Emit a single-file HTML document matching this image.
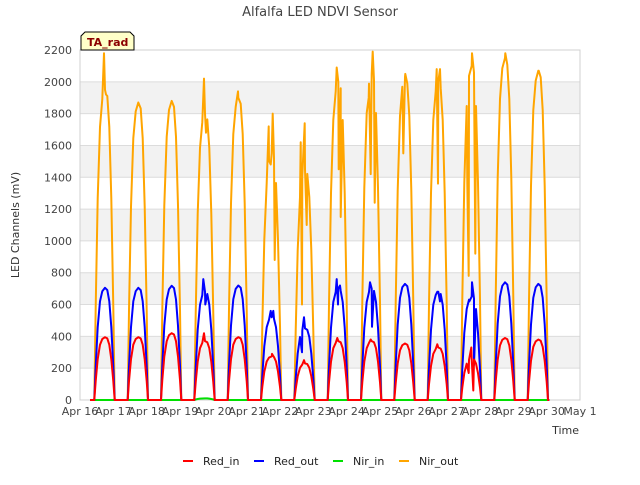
<!DOCTYPE html>
<html><head><meta charset="utf-8"><style>
body{margin:0;background:#fff;font-family:"Liberation Sans","DejaVu Sans",sans-serif;}
svg text{font-family:"DejaVu Sans","Liberation Sans",sans-serif;}
</style></head><body>
<svg id="c" width="640" height="480" viewBox="0 0 640 480" xmlns="http://www.w3.org/2000/svg">
<rect width="640" height="480" fill="#fff"/>
<text x="320" y="16" text-anchor="middle" font-size="13" fill="#444">Alfalfa LED NDVI Sensor</text>
<g id="grid"></g>
<g id="series"></g>
<g id="axes"></g>
<text transform="translate(19,225) rotate(-90)" text-anchor="middle" font-size="11" fill="#333">LED Channels (mV)</text>
<text x="579" y="434" text-anchor="end" font-size="11" fill="#333">Time</text>
<g>
<path d="M81,50 L81,36 L85,32 L130,32 L134,36 L134,50 Z" fill="#ffffc8" stroke="#000" stroke-width="1"/>
<text x="87" y="46" font-size="11" font-weight="bold" fill="#8b0000">TA_rad</text>
</g>
<g id="legend"></g>
</svg>
<script>
const tickLabels=["Apr 16","Apr 17","Apr 18","Apr 19","Apr 20","Apr 21","Apr 22","Apr 23","Apr 24","Apr 25","Apr 26","Apr 27","Apr 28","Apr 29","Apr 30","May 1"];
const yTicks=[0,200,400,600,800,1000,1200,1400,1600,1800,2000,2200];
const dayFrac=[0.40,0.43,0.47,0.53,0.6,0.67,0.75,0.82,0.88,0.94,1.0,1.04,1.08];
const profile=[0,0,0.3,0.65,0.88,0.97,1.0,0.98,0.88,0.65,0.3,0,0];
const nirOutPeak=[1950,1870,1880,1800,1900,1550,1450,2000,2050,2030,2000,2100,2150,2070];
const redOutPeak=[705,705,718,680,720,520,450,700,700,730,680,650,740,730];
const redInPeak=[395,395,420,370,395,275,230,370,370,355,330,260,390,380];
const nirInPeak=[0,0,0,10,0,0,0,0,0,0,0,0,0,0];
const nirSpikes=[[0.72,2180],[0.78,1920],[3.72,2020],[3.78,1680],[4.74,1940],[5.66,1720],[5.72,1480],[5.78,1800],[5.84,880],[6.62,1620],[6.66,600],[6.74,1740],[6.8,1100],[7.7,2090],[7.76,1450],[7.82,1150],[8.66,1900],[8.72,1420],[8.78,2190],[8.84,1240],[9.7,1550],[9.76,2050],[10.7,2080],[10.74,1360],[10.8,2080],[11.62,1360],[11.66,780],[11.76,2180],[11.86,920],[12.76,2180],[13.76,2070]];
const redOutSpikes=[[3.7,760],[3.76,600],[5.72,560],[5.8,560],[6.66,300],[6.72,520],[7.7,760],[7.74,600],[7.8,720],[8.7,740],[8.76,460],[10.72,680],[10.8,620],[11.68,620],[11.76,740],[11.82,220]];
const redInSpikes=[[3.72,420],[5.76,290],[6.72,250],[7.72,390],[8.72,380],[10.72,350],[11.66,170],[11.74,330],[11.8,60]];
const X0=80,X1=580,Y0=400,Y1=50;
const xs=d=>X0+d*(X1-X0)/15;
const ys=v=>Y0-v*(Y0-Y1)/2200;
const NS="http://www.w3.org/2000/svg";
function mk(t,a,p){const e=document.createElementNS(NS,t);for(const k in a)e.setAttribute(k,a[k]);p.appendChild(e);return e;}
const grid=document.getElementById('grid');
for(let i=0;i<yTicks.length-1;i++){if(i%2===1){const r=mk('rect',{x:X0,y:ys(yTicks[i+1]),width:X1-X0,height:ys(yTicks[i])-ys(yTicks[i+1]),fill:'#f2f2f2'},grid);

}}
yTicks.forEach(v=>{const l=mk('line',{x1:X0,x2:X1,y1:ys(v),y2:ys(v),stroke:'#dcdcdc','stroke-width':1},grid);

});
mk('rect',{x:X0,y:Y1,width:X1-X0,height:Y0-Y1,fill:'none',stroke:'#d0d0d0'},grid);
const axes=document.getElementById('axes');
yTicks.forEach(v=>{const t=mk('text',{x:X0-8,y:ys(v)+4,'text-anchor':'end','font-size':11,fill:'#444'},axes);t.textContent=v;

});
tickLabels.forEach((s,i)=>{const t=mk('text',{x:xs(i),y:415,'text-anchor':'middle','font-size':11,fill:'#444'},axes);t.textContent=s;

});
function build(peaks,spikes){const pts=[];
for(let d=0;d<peaks.length;d++){const sp=spikes.filter(s=>Math.floor(s[0])===d);
const arr=dayFrac.map((f,i)=>[d+f,peaks[d]*profile[i]]);sp.forEach(s=>arr.push([s[0],s[1]]));arr.sort((a,b)=>a[0]-b[0]);arr.forEach(p=>pts.push(p));}
pts.unshift([0.3,0]);return pts.map(p=>xs(p[0]).toFixed(1)+','+ys(p[1]).toFixed(1)).join(' ');}
const ser=document.getElementById('series');
const defs=[["nir-out-line","#ffa500",nirOutPeak,nirSpikes],["nir-in-line","#00e000",nirInPeak,[]],["red-out-line","#0000ff",redOutPeak,redOutSpikes],["red-in-line","#ff0000",redInPeak,redInSpikes]];
defs.forEach(d=>{const p=mk('polyline',{points:build(d[2],d[3]),fill:'none',stroke:d[1],'stroke-width':2,'stroke-linejoin':'round'},ser);

});
const leg=document.getElementById('legend');
[["Red_in","#ff0000",183],["Red_out","#0000ff",254],["Nir_in","#00e000",333],["Nir_out","#ffa500",399]].forEach(l=>{
const g=mk('g',{},leg);


mk('line',{x1:l[2],x2:l[2]+10,y1:461,y2:461,stroke:l[1],'stroke-width':2},g);
const t=mk('text',{x:l[2]+20,y:465,'font-size':11,fill:'#222'},g);t.textContent=l[0];});
</script>
</body></html>
